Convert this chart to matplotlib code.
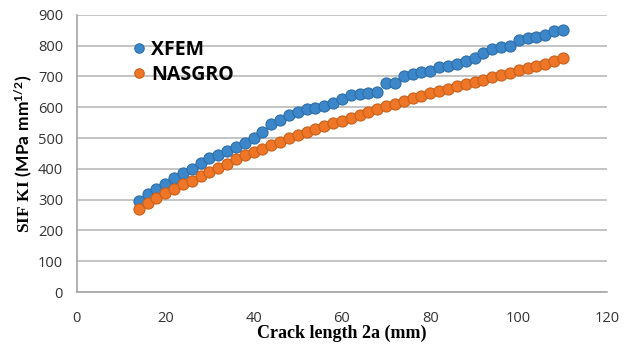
import matplotlib
matplotlib.use("Agg")
import matplotlib.pyplot as plt

# crack length 2a (mm)
crack_length = list(range(14, 111, 2))

# SIF KI values (MPa mm^1/2)
xfem = [295, 318, 335, 350, 370, 388, 400, 420, 435, 445,
        457, 470, 485, 500, 520, 545, 560, 575, 585, 593,
        597, 605, 615, 628, 640, 643, 645, 650, 678, 680,
        700, 708, 715, 718, 730, 735, 740, 750, 760, 775,
        790, 795, 800, 820, 825, 828, 835, 848, 852]
nasgro = [268, 290, 305, 320, 335, 350, 362, 378, 390, 402,
          415, 432, 445, 455, 465, 478, 488, 500, 510, 520,
          530, 540, 548, 557, 565, 575, 585, 595, 605, 612,
          620, 630, 637, 645, 652, 660, 668, 675, 683, 690,
          698, 705, 712, 720, 727, 735, 742, 750, 760]

x_ticks = [0, 20, 40, 60, 80, 100, 120]
y_ticks = [0, 100, 200, 300, 400, 500, 600, 700, 800, 900]

# serif bold for "SIF KI", sans bold for the units part
plt.rcParams['mathtext.fontset'] = 'custom'
plt.rcParams['mathtext.rm'] = 'Liberation Serif:bold'
plt.rcParams['mathtext.sf'] = 'Lato:bold'
plt.rcParams['mathtext.it'] = 'Liberation Serif:bold'

fig = plt.figure(figsize=(6.41, 3.47), dpi=100)
ax = fig.add_axes([0.120, 0.1585, 0.827, 0.7985])

ax.plot(crack_length, xfem, 'o', color='#3C87C9', markeredgecolor='#2E6EA8',
        markersize=8, markeredgewidth=0.8, label='XFEM', zorder=3)
ax.plot(crack_length, nasgro, 'o', color='#EE7626', markeredgecolor='#C9601B',
        markersize=8, markeredgewidth=0.8, label='NASGRO', zorder=3)

ax.set_xlim(0, 120)
ax.set_ylim(0, 900)
ax.set_xticks(x_ticks)
ax.set_yticks(y_ticks)
ax.yaxis.grid(True, color='#BFBFBF', linewidth=1.3)
ax.set_axisbelow(True)
for side in ['top', 'right']:
    ax.spines[side].set_visible(False)
for side in ['left', 'bottom']:
    ax.spines[side].set_color('#A6A6A6')
    ax.spines[side].set_linewidth(1.2)
ax.tick_params(length=0, labelsize=10.5, colors='#333333', pad=10)
ax.tick_params(axis='x', pad=14)
for lbl in ax.get_xticklabels() + ax.get_yticklabels():
    lbl.set_family('Open Sans')

ax.set_xlabel('Crack length 2a (mm)', family='Liberation Serif', fontweight='bold',
              fontsize=13, labelpad=-1)
ax.set_ylabel(r'$\mathrm{SIF\ KI}\ \mathsf{(MPa\ mm^{1/2})}$', fontsize=12.5, labelpad=3)

leg = ax.legend(loc='upper left', bbox_to_anchor=(0.077, 0.945), frameon=False,
                prop={'family': 'Open Sans', 'weight': 'bold', 'size': 14},
                handletextpad=0.0, labelspacing=0.25, handlelength=1.2, borderpad=0,
                markerscale=0.85)

fig.savefig('out.png', dpi=100)
